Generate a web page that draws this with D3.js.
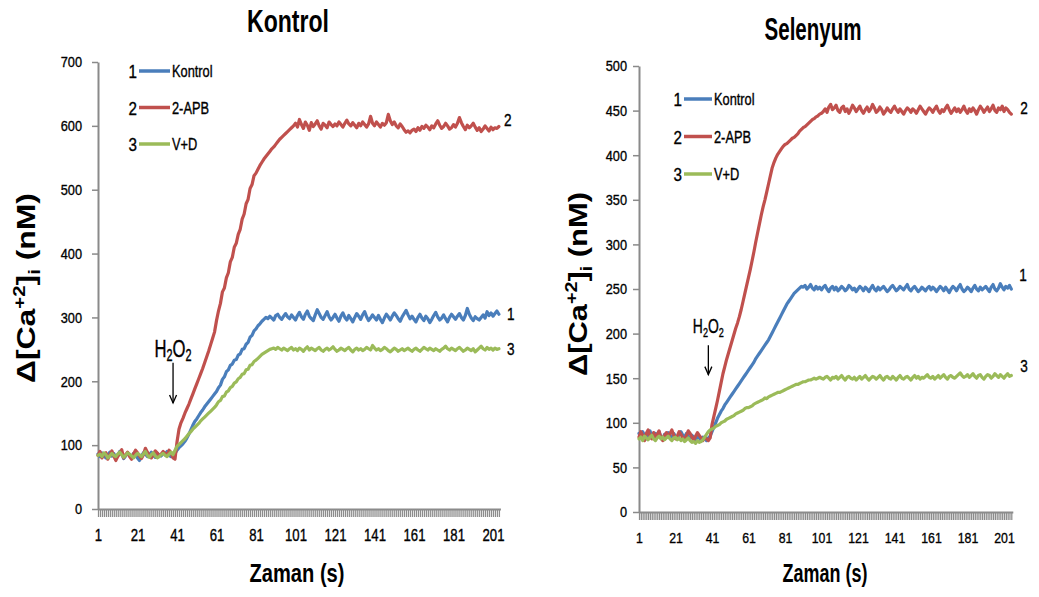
<!DOCTYPE html>
<html>
<head>
<meta charset="utf-8">
<script src="https://cdn.jsdelivr.net/npm/d3@7"></script>
<style>
  html, body { margin: 0; padding: 0; background: #fff; }
  svg { display: block; }
</style>
</head>
<body>
<svg id="chart" width="1039" height="597"></svg>
<script>
// Series labels shared by both panels
const seriesNames = ["Kontrol", "2-APB", "V+D"];
const seriesNumbers = ["1", "2", "3"];
const xTickLabels = [1, 21, 41, 61, 81, 101, 121, 141, 161, 181, 201];
const kontrolYTicks = [0, 100, 200, 300, 400, 500, 600, 700];
const selenyumYTicks = [0, 50, 100, 150, 200, 250, 300, 350, 400, 450, 500];

// Panel "Kontrol": Δ[Ca2+]i (nM) per second
const kCtrl = [
  86,82,88,84,80,85,89,83,87,81,84,90,86,79,83,88,85,82,87,84,
  80,76,83,88,86,82,85,89,84,81,87,85,83,88,86,90,84,82,85,87,
  92,96,99,102,106,111,117,124,131,137,141,146,151,155,160,164,168,172,176,180,
  184,190,194,203,207,215,218,225,227,233,234,241,243,250,251,258,261,269,272,279,
  282,287,290,294,297,300,298,302,299,296,303,305,300,297,302,306,301,298,304,300,
  296,303,308,301,297,305,310,302,298,295,304,312,306,300,297,303,309,301,296,300,
  305,299,294,302,307,300,296,303,298,293,300,306,302,297,304,309,301,295,299,304,
  300,296,303,297,292,299,305,301,296,302,307,303,298,294,301,306,311,304,298,302,
  297,293,300,305,299,295,302,298,292,297,303,308,301,296,299,304,298,293,300,305,
  301,297,302,306,300,296,303,314,305,299,295,301,298,296,300,304,299,309,303,307,
  302,306,310,305
];
const kApb = [
  84,90,80,86,88,78,85,91,83,76,82,87,93,80,85,89,82,78,86,92,
  88,83,79,85,95,89,84,80,86,91,88,83,86,90,87,84,92,88,80,78,
  105,125,135,142,150,157,164,172,180,188,196,204,212,220,229,238,247,257,267,277,
  295,310,322,340,346,362,370,387,394,410,416,430,438,454,462,478,485,502,508,522,
  526,532,538,543,548,552,556,560,564,567,571,575,579,582,585,588,591,594,597,600,
  604,598,610,602,596,606,601,593,605,599,603,608,600,595,604,601,597,606,602,599,
  603,600,606,602,598,604,609,603,600,605,601,597,604,600,606,602,598,603,615,604,
  600,606,602,598,604,601,605,618,608,602,606,600,597,603,599,594,590,592,589,593,
  595,591,597,593,599,596,601,598,594,600,597,603,608,601,596,599,604,600,595,597,
  602,598,604,613,605,599,594,601,597,600,604,598,593,597,591,595,600,596,592,598,
  594,597,596,599
];
const kVd = [
  84,86,82,88,85,80,83,87,84,82,86,89,85,81,84,88,86,83,80,84,
  87,85,82,86,90,84,81,85,88,83,80,82,85,87,84,82,86,89,85,92,
  98,101,104,107,110,114,118,121,125,128,131,134,138,141,144,147,150,153,156,159,
  163,168,170,176,177,183,185,190,192,197,199,204,206,211,212,218,219,225,226,231,
  233,236,239,242,244,246,248,250,251,252,250,253,251,249,252,250,248,251,253,249,
  251,248,252,250,247,251,254,249,252,250,248,251,253,249,247,250,252,249,251,254,
  250,247,249,252,250,248,251,253,249,246,250,252,249,251,248,250,253,251,249,256,
  252,249,251,248,250,253,251,248,246,249,252,250,247,249,251,248,250,252,249,247,
  250,252,249,247,250,253,251,249,252,250,248,251,249,247,250,252,255,251,249,252,
  250,248,251,253,250,247,249,252,250,248,251,246,249,252,255,251,249,253,250,252,
  249,252,250,251
];

// Panel "Selenyum"
const sCtrl = [
  88,84,90,86,82,87,91,85,83,88,86,90,84,82,87,85,89,86,83,88,
  85,82,87,90,86,84,88,85,82,86,84,81,85,83,80,84,82,80,83,85,
  90,95,100,105,109,113,116,120,123,126,129,132,135,138,141,144,147,150,153,156,
  159,162,165,168,172,175,178,181,184,187,190,193,197,201,205,209,213,217,221,225,
  229,233,236,239,242,245,247,249,251,253,252,254,250,252,255,251,249,253,250,252,
  249,252,254,250,247,251,253,249,252,248,250,253,251,248,250,254,252,249,251,247,
  250,253,251,248,252,250,247,251,254,250,248,252,249,251,253,250,247,249,252,254,
  251,248,250,253,251,249,252,255,250,248,251,253,250,247,249,252,250,248,251,253,
  249,252,250,247,250,253,251,248,252,249,246,250,253,251,248,252,255,250,247,249,
  252,250,247,251,254,250,248,252,249,251,253,250,247,252,255,250,248,251,256,252,
  249,253,251,254,250
];
const sApb = [
  84,90,86,80,88,92,85,82,89,84,87,91,83,80,86,89,84,88,92,86,
  82,85,90,87,83,80,86,91,88,84,81,85,89,86,83,80,84,82,80,83,
  98,107,116,125,135,145,155,163,171,178,185,192,199,206,212,219,227,236,245,254,
  263,272,282,292,303,313,323,333,342,350,359,368,377,386,392,397,401,404,407,410,
  412,413,415,417,419,420,422,424,427,429,431,432,434,436,438,440,441,443,444,446,
  447,449,452,448,454,457,451,453,456,450,448,453,455,449,452,447,451,456,453,449,
  452,455,450,447,451,454,449,452,457,453,448,450,454,451,446,449,453,450,448,452,
  455,451,448,452,449,446,450,453,451,448,452,450,447,451,455,452,449,446,450,453,
  451,448,452,455,450,447,451,449,453,456,451,447,450,453,449,452,448,451,455,450,
  447,452,449,453,450,446,451,455,452,448,451,454,449,452,456,450,448,453,451,455,
  449,453,451,448,446
];
const sVd = [
  82,84,80,85,83,81,84,86,82,80,83,85,82,84,81,83,85,82,80,83,
  84,81,83,80,82,79,81,83,80,78,79,77,80,78,79,81,84,87,90,92,
  93,94,96,97,98,100,101,102,104,105,106,107,108,110,111,112,113,114,116,117,
  117,118,119,121,122,123,124,125,126,128,127,129,130,131,132,133,134,134,135,136,
  137,138,139,140,141,142,143,143,144,145,146,146,147,148,148,149,150,149,150,151,
  150,149,151,152,150,148,151,150,152,149,151,153,150,148,151,152,150,149,151,148,
  150,152,149,151,153,150,148,150,152,151,149,151,153,150,148,151,152,150,149,152,
  150,148,151,153,150,149,151,152,150,148,151,153,150,152,149,151,150,152,154,151,
  150,152,149,151,153,150,152,154,151,149,152,153,151,150,152,154,156,153,151,152,
  154,151,153,155,152,150,153,154,151,149,152,154,153,150,152,155,153,151,154,152,
  150,153,155,152,153
];

const colors = ["#4a7ebb", "#c0504d", "#9bbb59"];
const axisGray = "#8a8a8a";
const sans = "'Liberation Sans',Arial,sans-serif";
const ink = "#000";

const svg = d3.select("#chart");

// Squeeze or stretch a text element along its reading direction to a given length
function fitLength(sel, length, baseTransform) {
  const w = sel.node().getBBox().width;
  sel.attr("transform", baseTransform + ` scale(${length / w},1)`);
}

// Narrow each text of a selection in place (keeps its anchor point) and thicken it a little
function condense(sel, k) {
  sel.each(function () {
    const w = this.getComputedTextLength();
    d3.select(this)
      .attr("textLength", w * k).attr("lengthAdjust", "spacingAndGlyphs")
      .attr("stroke", ink).attr("stroke-width", 0.35);
  });
}

function drawPanel(p) {
  const n = d3.max(p.series, s => s.length);
  const x = d3.scaleLinear().domain([1, n]).range([p.x0, p.x0 + (n - 1) * p.step]);
  const y = d3.scaleLinear().domain([0, p.yMax]).range([p.yBottom, p.yTop]);
  const g = svg.append("g");

  // category ticks along the time axis (one per second)
  const gx = g.append("g")
    .attr("transform", `translate(0,${p.yBottom})`)
    .call(d3.axisBottom(x).tickValues(d3.range(1, n + 1)).tickSize(8).tickSizeOuter(0).tickFormat(""));
  gx.select(".domain").attr("stroke", axisGray).attr("stroke-width", 2)
    .attr("d", `M${p.x0},0.5H${x(n) + 2}`);
  gx.selectAll(".tick line").attr("stroke", "#8c8c8c").attr("stroke-width", 1.25);

  // time labels every 20 s
  const gxl = g.append("g")
    .attr("transform", `translate(0,${p.yBottom})`)
    .call(d3.axisBottom(x).tickValues(xTickLabels).tickSize(0).tickPadding(p.xLabelPad));
  gxl.select(".domain").remove();
  gxl.selectAll("text").attr("font-family", sans).attr("font-size", p.xLabelSize).attr("fill", ink);
  condense(gxl.selectAll("text"), 0.82);

  // value axis
  const gy = g.append("g")
    .attr("transform", `translate(${p.x0},0)`)
    .call(d3.axisLeft(y).tickValues(p.yTicks).tickSize(6).tickSizeOuter(0).tickPadding(p.yLabelPad));
  gy.select(".domain").attr("stroke", axisGray).attr("stroke-width", 2);
  gy.selectAll(".tick line").attr("stroke", axisGray).attr("stroke-width", 1.5);
  gy.selectAll("text").attr("font-family", sans).attr("font-size", 15).attr("fill", ink);
  condense(gy.selectAll("text"), 0.85);

  // traces
  const line = d3.line().x((d, i) => x(i + 1)).y(d => y(d));
  p.series.forEach((s, i) => {
    g.append("path").datum(s)
      .attr("fill", "none")
      .attr("stroke", colors[i])
      .attr("stroke-width", 3.2)
      .attr("stroke-linejoin", "round")
      .attr("stroke-linecap", "round")
      .attr("d", line);
  });

  // trace numbers at the right end
  p.series.forEach((s, i) => {
    const t = g.append("text")
      .attr("x", x(s.length) + p.endDx[i])
      .attr("y", y(s[s.length - 1]) + p.endDy[i] + 6)
      .attr("font-family", sans).attr("font-size", 17).attr("fill", ink)
      .text(seriesNumbers[i]);
    condense(t, 0.8);
  });

  // legend
  seriesNames.forEach((name, i) => {
    const ly = p.legend.y + i * p.legend.gap;
    const num = g.append("text")
      .attr("x", p.legend.x - 2).attr("y", ly + 7)
      .attr("text-anchor", "end")
      .attr("font-family", sans).attr("font-size", 19).attr("fill", ink)
      .text(seriesNumbers[i]);
    condense(num, 0.8);
    g.append("line")
      .attr("x1", p.legend.x).attr("x2", p.legend.x + p.legend.len)
      .attr("y1", ly).attr("y2", ly)
      .attr("stroke", colors[i]).attr("stroke-width", 3.5);
    const lt = g.append("text")
      .attr("x", p.legend.x + p.legend.len + 2).attr("y", ly + 6)
      .attr("font-family", sans).attr("font-size", 16).attr("fill", ink)
      .text(name);
    condense(lt, 0.8);
  });

  // H2O2 application marker
  const hx = x(p.h2o2.cat);
  const ht = g.append("text")
    .attr("text-anchor", "middle")
    .attr("font-family", sans).attr("font-size", p.h2o2.size).attr("fill", ink)
    .attr("stroke", ink).attr("stroke-width", 0.4);
  ht.append("tspan").text("H");
  ht.append("tspan").attr("font-size", p.h2o2.size * 0.65).attr("dy", 4).text("2");
  ht.append("tspan").attr("dy", -4).text("O");
  ht.append("tspan").attr("font-size", p.h2o2.size * 0.65).attr("dy", 4).text("2");
  fitLength(ht, p.h2o2.width, `translate(${hx},${y(p.h2o2.textAt)})`);
  const a0 = y(p.h2o2.arrowFrom), a1 = y(p.h2o2.arrowTo);
  g.append("line").attr("x1", hx).attr("x2", hx).attr("y1", a0).attr("y2", a1)
    .attr("stroke", ink).attr("stroke-width", 1.3);
  g.append("path")
    .attr("d", `M${hx - 3.5},${a1 - 8}L${hx},${a1}L${hx + 3.5},${a1 - 8}`)
    .attr("fill", "none").attr("stroke", ink).attr("stroke-width", 1.3);

  // panel title
  const t = g.append("text")
    .attr("text-anchor", "middle")
    .attr("font-family", sans).attr("font-weight", "bold").attr("font-size", 31).attr("fill", ink)
    .text(p.title);
  fitLength(t, p.titleWidth, `translate(${p.titleX},${p.titleY})`);

  // time axis title
  const xt = g.append("text")
    .attr("text-anchor", "middle")
    .attr("font-family", sans).attr("font-weight", "bold").attr("font-size", 26).attr("fill", ink)
    .text("Zaman (s)");
  fitLength(xt, p.xTitleWidth, `translate(${p.xTitleX},${p.xTitleY})`);

  // value axis title
  const yt = g.append("text")
    .attr("text-anchor", "middle")
    .attr("font-family", sans).attr("font-weight", "bold").attr("font-size", 25).attr("fill", ink);
  yt.append("tspan").text("Δ[Ca");
  yt.append("tspan").attr("font-size", 16).attr("dy", -10).text("+2");
  yt.append("tspan").attr("dy", 10).text("]");
  yt.append("tspan").attr("font-size", 16).attr("dy", 5).text("i");
  yt.append("tspan").attr("dy", -5).text(" (nM)");
  fitLength(yt, p.yTitleLength, `translate(${p.yTitleX},${p.yTitleY}) rotate(-90)`);
}

drawPanel({
  title: "Kontrol", titleX: 288, titleY: 32, titleWidth: 82,
  series: [kCtrl, kApb, kVd],
  x0: 98, step: 1.975,
  yMax: 700, yTicks: kontrolYTicks, yBottom: 509, yTop: 62,
  xLabelPad: 21, xLabelSize: 16, yLabelPad: 10,
  endDx: [8, 5, 8], endDy: [0, -6, 0],
  legend: { x: 139, y: 71, gap: 36.5, len: 31 },
  h2o2: { cat: 39, textAt: 238, arrowFrom: 229, arrowTo: 166, size: 24, width: 37 },
  xTitleX: 297, xTitleY: 582, xTitleWidth: 95,
  yTitleX: 35, yTitleY: 288, yTitleLength: 190
});

drawPanel({
  title: "Selenyum", titleX: 813, titleY: 40, titleWidth: 97,
  series: [sCtrl, sApb, sVd],
  x0: 639, step: 1.825,
  yMax: 500, yTicks: selenyumYTicks, yBottom: 512, yTop: 66,
  xLabelPad: 20, xLabelSize: 15, yLabelPad: 6,
  endDx: [8, 9, 9], endDy: [-14, -6, -10],
  legend: { x: 684, y: 99, gap: 37.5, len: 28 },
  h2o2: { cat: 39, textAt: 201, arrowFrom: 187, arrowTo: 154, size: 21, width: 31 },
  xTitleX: 825, xTitleY: 582, xTitleWidth: 85,
  yTitleX: 587, yTitleY: 284, yTitleLength: 184
});
</script>
</body>
</html>
